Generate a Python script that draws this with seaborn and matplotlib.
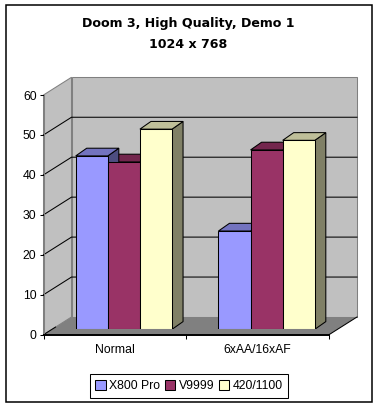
import matplotlib
matplotlib.use("Agg")
import matplotlib.pyplot as plt
import pandas as pd
import seaborn as sns
from matplotlib.patches import Polygon, Rectangle

# data
groups = ["Normal", "6xAA/16xAF"]
cards = ["X800 Pro", "V9999", "420/1100"]
x800 = [43.4, 24.6]
v9999 = [41.9, 44.9]
r420 = [50.1, 47.3]
y_ticks = [0, 10, 20, 30, 40, 50, 60]

front_cols = ["#9999FF", "#993366", "#FFFFCC"]
top_cols = ["#7373BF", "#73264D", "#BFBF99"]
side_cols = ["#4D4D80", "#4D1A33", "#808066"]

W, H = 378, 407
# chart box in pixels
L, R, B, T = 43.5, 329.0, 334.7, 95.0
WALL_DX, WALL_DY = 28.0, 17.7
BAR_DX, BAR_DY = 9.0, 5.4
DEPTH_PX_X, DEPTH_PX_Y = 11.0, 7.7
THIN = 0.75

df = pd.DataFrame({
    "group": groups * 3,
    "card": [c for c in cards for _ in groups],
    "fps": x800 + v9999 + r420,
})

plt.rcParams["font.family"] = ["Liberation Sans", "DejaVu Sans"]
fig = plt.figure(figsize=(W / 100, H / 100), dpi=100, facecolor="white")


def px_axes(left, right, bottom, top):
    return fig.add_axes([left / W, 1 - bottom / H, (right - left) / W, (bottom - top) / H])


# background: frame and the 3d walls, in pixel coordinates
bg = fig.add_axes([0, 0, 1, 1])
bg.set_xlim(0, W)
bg.set_ylim(H, 0)
bg.axis("off")
bg.add_patch(Rectangle((6.2, 5.2), 365.3, 397, fc="white", ec="black", lw=1.1))
bg.add_patch(Polygon([(L, T), (L + WALL_DX, T - WALL_DY), (L + WALL_DX, B - WALL_DY), (L, B)],
                     fc="#C0C0C0", ec="#808080", lw=THIN))
bg.add_patch(Rectangle((L + WALL_DX, T - WALL_DY), R - L, B - T, fc="#C0C0C0", ec="#808080", lw=THIN))
bg.add_patch(Polygon([(L, B), (R, B), (R + WALL_DX, B - WALL_DY), (L + WALL_DX, B - WALL_DY)],
                     fc="#808080", ec="none"))
px_per_unit = (B - T) / 60
for v in y_ticks[1:-1]:
    y = B - v * px_per_unit
    bg.plot([L, L + WALL_DX, R + WALL_DX], [y, y - WALL_DY, y - WALL_DY], color="black", lw=THIN)
bg.plot([L, L + 12], [B, B - 12 * WALL_DY / WALL_DX], color="black", lw=THIN)
bg.plot([R, R + WALL_DX], [B, B - WALL_DY], color="black", lw=THIN)

# front plane axes: ticks and labels
ax = px_axes(L, R, B, T)
ax.patch.set_alpha(0)
ax.set_xlim(-0.5, 1.5)
ax.set_ylim(0, 60)
ax.set_yticks(y_ticks)
ax.set_xticks([-0.5, 0.5, 1.5])
ax.set_xticklabels([])
ax.set_xticks([0, 1], minor=True)
ax.set_xticklabels(groups, minor=True)
ax.tick_params(axis="x", which="minor", length=0, pad=7, labelsize=8.8)
ax.tick_params(axis="x", which="major", length=3, width=THIN)
ax.tick_params(axis="y", length=3, width=THIN, pad=2, labelsize=8.8)
for s in ["top", "right"]:
    ax.spines[s].set_visible(False)
ax.spines["left"].set_color("#808080")
ax.spines["left"].set_linewidth(THIN)
ax.spines["bottom"].set_linewidth(1.4)

# bars sit a little behind the front plane
bar_ax = px_axes(L + BAR_DX, R + BAR_DX, B - BAR_DY, T - BAR_DY)
bar_ax.patch.set_alpha(0)
sns.barplot(data=df, x="group", y="fps", hue="card", order=groups, hue_order=cards,
            palette=front_cols, width=0.675, gap=0, saturation=1, errorbar=None,
            edgecolor="black", linewidth=THIN, zorder=5, ax=bar_ax)
bar_ax.set_xlim(-0.5, 1.5)
bar_ax.set_ylim(0, 60)

dx = DEPTH_PX_X / ((R - L) / 2)
dy = DEPTH_PX_Y / px_per_unit

# depth faces go right to left so they overlap like the original
for i in [2, 1, 0]:
    for bar in bar_ax.containers[i]:
        x0 = bar.get_x()
        x1 = x0 + bar.get_width()
        h = bar.get_height()
        bar_ax.add_patch(Polygon([(x1, 0), (x1 + dx, dy), (x1 + dx, h + dy), (x1, h)],
                                 fc=side_cols[i], ec="black", lw=THIN, zorder=2))
        bar_ax.add_patch(Polygon([(x0, h), (x0 + dx, h + dy), (x1 + dx, h + dy), (x1, h)],
                                 fc=top_cols[i], ec="black", lw=THIN, zorder=2))

sns.move_legend(bar_ax, "center", bbox_to_anchor=(189 / W, 1 - 386 / H),
                bbox_transform=fig.transFigure, ncol=3, title=None, frameon=True,
                fancybox=False, framealpha=1, edgecolor="black", fontsize=8.8,
                handlelength=0.85, handleheight=0.85, handletextpad=0.3, columnspacing=0.35,
                borderpad=0.45, borderaxespad=0)
bar_ax.get_legend().get_frame().set_linewidth(THIN)
bar_ax.axis("off")

fig.text(188 / W, 1 - 23.5 / H, "Doom 3, High Quality, Demo 1", ha="center", va="center",
         fontsize=9.1, fontweight="bold", family="DejaVu Sans")
fig.text(188 / W, 1 - 44.5 / H, "1024 x 768", ha="center", va="center",
         fontsize=9.1, fontweight="bold", family="DejaVu Sans")

fig.savefig("out.png", dpi=100)
